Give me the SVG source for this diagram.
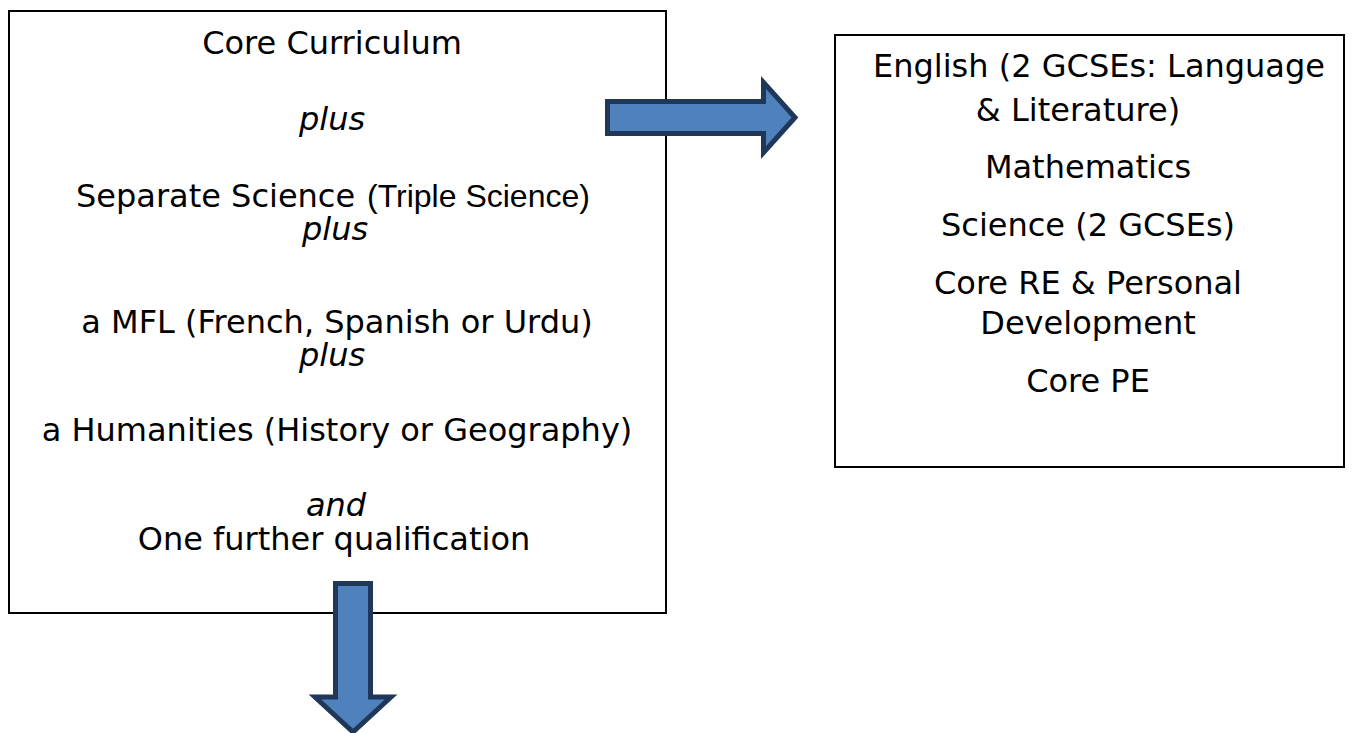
<svg xmlns="http://www.w3.org/2000/svg" width="1354" height="733" viewBox="0 0 1354 733">
<style>
.box{fill:#fff;stroke:#000;stroke-width:2}
.t{font-family:"DejaVu Sans",Verdana,sans-serif;font-size:32px;fill:#000;text-anchor:middle}
.s{text-anchor:start}
.i{font-style:italic}
.a{font-family:"Liberation Sans",Arial,sans-serif}
.arrow{fill:#4f81bd;stroke:#1f3859;stroke-width:5;stroke-linejoin:miter}
</style>
<rect width="1354" height="733" fill="#fff"/>
<g id="left-box">
<rect class="box" x="9" y="11" width="657" height="602"/>
<text class="t" x="332" y="54">Core Curriculum</text>
<text class="t i" x="332" y="130">plus</text>
<text class="t s" x="76" y="207">Separate Science <tspan class="a" x="367">(Triple Science)</tspan></text>
<text class="t i" x="335" y="240">plus</text>
<text class="t" x="337" y="333">a MFL (French, Spanish or Urdu)</text>
<text class="t i" x="332" y="366">plus</text>
<text class="t" x="337" y="441">a Humanities (History or Geography)</text>
<text class="t i" x="336" y="516">and</text>
<text class="t" x="334" y="550">One further qualification</text>
</g>
<g id="right-box">
<rect class="box" x="835" y="35" width="509" height="432"/>
<text class="t" x="1099" y="77">English (2 GCSEs: Language</text>
<text class="t" x="1078" y="121">&amp; Literature)</text>
<text class="t" x="1088" y="178">Mathematics</text>
<text class="t" x="1088" y="236">Science (2 GCSEs)</text>
<text class="t" x="1088" y="294">Core RE &amp; Personal</text>
<text class="t" x="1088" y="334">Development</text>
<text class="t" x="1088" y="392">Core PE</text>
</g>
<g id="connectors">
<path class="arrow" d="M607.5,101.5 H763.5 V82.5 L795,117.5 L763.5,152.5 V133.5 H607.5 Z"/>
<path class="arrow" d="M335.5,583.5 H370.5 V697 H391 L353,732 L315,697 H335.5 Z"/>
</g>
</svg>
